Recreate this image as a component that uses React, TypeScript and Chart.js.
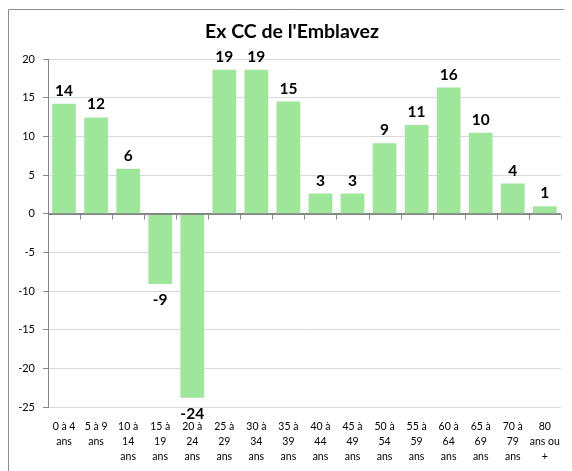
import { useEffect, useRef } from 'react';
import { Chart, registerables } from 'chart.js';

Chart.register(...registerables);

const TITLE = "Ex CC de l'Emblavez";

const categories: string[][] = [
  ['0 à 4', 'ans'],
  ['5 à 9', 'ans'],
  ['10 à', '14', 'ans'],
  ['15 à', '19', 'ans'],
  ['20 à', '24', 'ans'],
  ['25 à', '29', 'ans'],
  ['30 à', '34', 'ans'],
  ['35 à', '39', 'ans'],
  ['40 à', '44', 'ans'],
  ['45 à', '49', 'ans'],
  ['50 à', '54', 'ans'],
  ['55 à', '59', 'ans'],
  ['60 à', '64', 'ans'],
  ['65 à', '69', 'ans'],
  ['70 à', '79', 'ans'],
  ['80', 'ans ou', '+'],
];

const values: number[] = [14.2, 12.45, 5.8, -9.1, -23.8, 18.6, 18.6, 14.5, 2.6, 2.6, 9.1, 11.45, 16.3, 10.45, 3.9, 0.95];

const yMin = -25;
const yMax = 20;
const yStep = 5;

const FONT = 'Lato, "Open Sans", sans-serif';
const BAR_COLOR = 'rgb(158, 230, 154)';

const customPlugin = {
  id: 'customDraw',
  beforeDraw(chart: any) {
    const { ctx, width, height } = chart;
    ctx.save();
    ctx.fillStyle = '#ffffff';
    ctx.fillRect(0, 0, width, height);
    ctx.strokeStyle = '#8c8c8c';
    ctx.lineWidth = 1;
    ctx.beginPath();
    ctx.moveTo(0.5, height);
    ctx.lineTo(0.5, 1.5);
    ctx.lineTo(width, 1.5);
    ctx.stroke();
    ctx.restore();
  },
  afterDatasetsDraw(chart: any) {
    const { ctx, chartArea, scales } = chart;
    const y0 = Math.round(scales.y.getPixelForValue(0)) + 0.5;
    ctx.save();
    ctx.strokeStyle = '#868686';
    ctx.lineWidth = 1;
    ctx.beginPath();
    ctx.moveTo(chartArea.left, y0);
    ctx.lineTo(chartArea.right, y0);
    const n = categories.length;
    const step = (chartArea.right - chartArea.left) / n;
    for (let i = 1; i <= n; i++) {
      const x = Math.round(chartArea.left + step * i) + 0.5;
      ctx.moveTo(x, y0);
      ctx.lineTo(x, y0 + 5);
    }
    ctx.stroke();

    const meta = chart.getDatasetMeta(0);
    ctx.fillStyle = '#000000';
    ctx.font = `bold 15.5px ${FONT}`;
    ctx.textAlign = 'center';
    ctx.textBaseline = 'middle';
    meta.data.forEach((bar: any, i: number) => {
      const v = values[i];
      const label = String(Math.round(v));
      const yy = v >= 0 ? bar.y - 13 : bar.y + 16;
      ctx.fillText(label, bar.x, yy);
    });

    ctx.font = `bold 19.5px ${FONT}`;
    ctx.fillText(TITLE, 284, 24);
    ctx.restore();
  },
};

export default function App() {
  const ref = useRef<HTMLCanvasElement | null>(null);
  useEffect(() => {
    if (!ref.current) return;
    const chart = new Chart(ref.current, {
      type: 'bar',
      data: {
        labels: categories,
        datasets: [
          {
            data: values,
            backgroundColor: BAR_COLOR,
            borderWidth: 0,
            barPercentage: 0.74,
            categoryPercentage: 1,
          },
        ],
      },
      options: {
        responsive: false,
        animation: false,
        layout: { padding: { top: 51, right: 4, left: 0, bottom: 0 } },
        plugins: {
          legend: { display: false },
          title: { display: false },
          tooltip: { enabled: false },
        },
        scales: {
          x: {
            grid: { display: false, drawTicks: false },
            border: { display: false },
            ticks: {
              padding: 12,
              maxRotation: 0,
              autoSkip: false,
              color: '#000000',
              font: { family: FONT, size: 10.5, lineHeight: 1.43 },
            },
            afterFit(scale: any) {
              scale.height = 64;
            },
          },
          y: {
            min: yMin,
            max: yMax,
            ticks: {
              stepSize: yStep,
              padding: 8,
              color: '#000000',
              font: { family: FONT, size: 11 },
            },
            grid: {
              color: (c: any) => (c.tick && c.tick.value === 0 ? '#868686' : '#d9d9d9'),
              tickColor: '#868686',
              tickLength: 5,
            },
            border: { display: true, color: '#868686' },
            afterFit(scale: any) {
              scale.width = 40;
            },
          },
        },
      },
      plugins: [customPlugin],
    });
    return () => chart.destroy();
  }, []);
  return (
    <div style={{ width: 564, height: 463 }}>
      <canvas ref={ref} width={564} height={463} style={{ display: 'block' }} />
    </div>
  );
}
